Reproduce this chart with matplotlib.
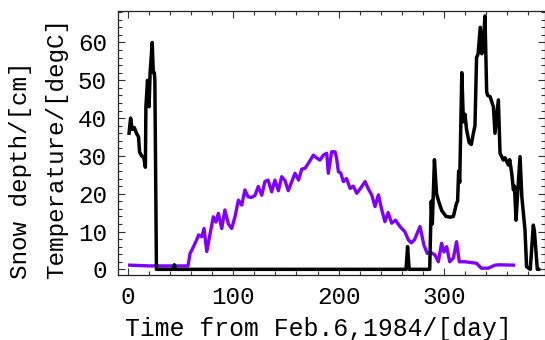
import numpy as np
import matplotlib
matplotlib.use("Agg")
import matplotlib.pyplot as plt
from matplotlib.ticker import MultipleLocator

# snow depth [cm] against day since Feb. 6, 1984
snow_day = [1, 2.5, 4, 6, 8, 10, 11, 13, 15, 16.5, 17, 18.5, 19.5, 20, 21, 23, 24, 25, 25.5, 27,
            43, 44, 45, 264, 265.5, 267, 286.5, 288, 289, 291, 293, 295, 298, 302, 306, 309,
            312, 313, 314, 315, 317, 318.5, 320, 321.5, 324, 326, 328, 329.5, 331, 332.5,
            334.5, 336, 337, 339, 340.6, 341.5, 343.8, 347, 348.5, 351.7, 353.3, 356.4, 358,
            361.2, 362.5, 364.4, 366, 367, 368.5, 370, 372.3, 374, 377, 378.5, 382, 384.9,
            386, 388.7, 390]
snow_cm = [36, 40, 37, 37.5, 36, 35, 31, 30, 29.5, 27, 43, 50, 48, 43, 52, 60, 52, 52, 50, 0,
           0, 1.2, 0, 0, 6, 0, 0, 18, 12, 29, 20, 18, 15.5, 14, 13.8, 14,
           17.5, 18, 26, 23, 52, 39, 41, 37, 33.5, 33, 36, 38, 56, 57,
           64, 57, 58, 67, 47, 46, 45.7, 43, 36, 44.8, 30.7, 28.9, 29.5,
           27.6, 29, 25.4, 21, 22, 13, 20, 29.8, 19.2, 10.4, 0.7, 0, 11.7,
           10, 0, 0]

# temperature [degC]
temp_day = [1.6, 20, 40, 57, 58.9, 61, 63, 65.2, 67, 70, 72.2, 74.8, 78, 81, 83.5, 85.8, 89, 92,
            95.3, 98.4, 101.6, 104.8, 108, 111, 114, 117, 120.5, 123.7, 127, 130, 133, 136.4,
            139.5, 142.8, 145.9, 149, 152.2, 155.5, 158.6, 162, 165, 168, 171.2, 176, 179,
            182.3, 185.5, 188.7, 190.2, 193.4, 196.6, 198, 199.8, 202, 204.5, 207.5, 210.9,
            214, 217.2, 221, 225.1, 228, 231.4, 234.6, 237.8, 241, 244, 247, 250.4, 254,
            258.3, 263, 266.2, 269, 272, 277.3, 281, 284.2, 288, 291.5, 294.7, 297.8, 300,
            302.6, 305.5, 309, 312, 314.6, 320, 326, 331, 335.5, 342, 348.5, 352.6, 366]
temp_c = [1.1, 0.9, 0.9, 0.9, 4.2, 5.3, 6.5, 7.8, 9.1, 8.6, 10.8, 4.7, 9.5, 13.9, 12.5, 14.8, 10.8,
          15.7, 12, 10.8, 13.9, 18.3, 17, 21, 19.2, 19, 19.5, 21.9, 19.6, 23.2, 23.6, 20.5,
          23.6, 20.8, 24.5, 23.5, 20.8, 23.2, 25.4, 23.6, 26.5, 26.7, 28, 30.2, 29.5,
          28.9, 30.2, 30.7, 25.4, 31.1, 31.1, 29.5, 25.8, 25.5, 23.2, 24, 21.4,
          22, 20.1, 21.5, 23.2, 21.4, 19.7, 16.6, 19.7, 15.7, 12.6, 15, 12.2, 13,
          11.3, 9.9, 7.8, 7, 7.8, 11.3, 6.4, 4.2, 4.4, 3.8, 2, 6.9, 4.6,
          6, 2, 3, 7.3, 2, 2, 1.8, 1.6, 0.3, 0.3, 1.1, 1.2, 1.1]

xticks = [0, 100, 200, 300]
yticks = [0, 10, 20, 30, 40, 50, 60]

plt.rcParams['font.family'] = ['Liberation Mono', 'DejaVu Sans Mono']

fig = plt.figure(figsize=(5.45, 3.4), dpi=100)
ax = fig.add_axes([118 / 545, 65 / 340, 1 - 118 / 545, 264.3 / 340])

ax.plot(temp_day, temp_c, color='#7f00ff', lw=2.4, solid_joinstyle='round')
ax.plot(snow_day, snow_cm, color='black', lw=2.5, solid_joinstyle='round')

ax.set_xlim(-9.5, 396)
ax.set_ylim(-1.5, 68.4)
ax.set_xticks(xticks)
ax.set_yticks(yticks)
ax.xaxis.set_minor_locator(MultipleLocator(20))
ax.yaxis.set_minor_locator(MultipleLocator(2))
ax.tick_params(which='both', direction='in', top=True, right=True,
               width=0.8, labelsize=17.5, color='#333333')
ax.tick_params(which='major', length=5)
ax.tick_params(which='minor', length=3)
ax.tick_params(axis='y', pad=8)
ax.tick_params(axis='x', pad=8)
for s in ax.spines.values():
    s.set_linewidth(0.9)
    s.set_color('#222222')

fig.text(318 / 545, 1 - 329 / 340, 'Time from Feb.6,1984/[day]', ha='center', va='center',
         fontsize=17.8)
fig.text(21 / 545, 1 - 279 / 340, 'Snow depth/[cm]', rotation=90, ha='center', va='bottom',
         fontsize=17.5)
fig.text(57 / 545, 1 - 279 / 340, 'Temperature/[degC]', rotation=90, ha='center', va='bottom',
         fontsize=17.5)

fig.savefig('out.png', dpi=100)
